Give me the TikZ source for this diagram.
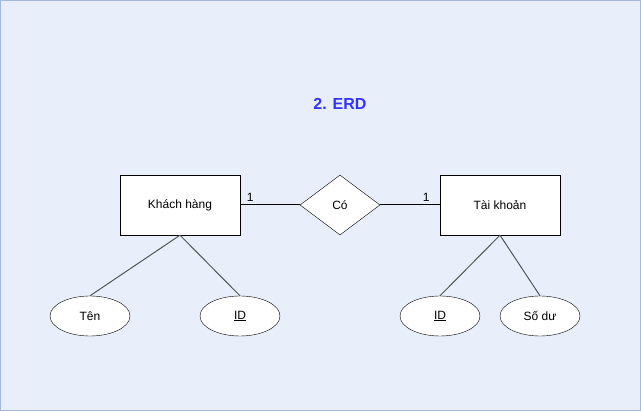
\documentclass[tikz,border=0pt]{standalone}
\usepackage{fontspec}
\setmainfont{Liberation Sans}
\usetikzlibrary{shapes.geometric}
\definecolor{bgblue}{HTML}{E8EFFB}
\definecolor{bdblue}{HTML}{A3B8E2}
\definecolor{titleblue}{HTML}{3333FF}
\definecolor{attrline}{HTML}{555555}

\begin{document}
\begin{tikzpicture}[x=1pt,y=-1pt]
		\tikzstyle{EntityStyle}=[draw=black,fill=white,minimum width=120pt,minimum height=60pt,inner sep=0pt,font=\fontsize{12}{14}\selectfont]
		\tikzstyle{RelStyle}=[diamond,draw=black,fill=white,minimum width=80pt,minimum height=60pt,inner sep=0pt,font=\fontsize{12}{14}\selectfont]
		\tikzstyle{AttrStyle}=[ellipse,draw=black,fill=white,minimum width=80pt,minimum height=40pt,inner sep=0pt,font=\fontsize{12}{14}\selectfont]
		\tikzstyle{AttrEdge}=[draw=attrline,line width=1pt]
		\tikzstyle{RelEdge}=[draw=black,line width=1pt]
		\tikzstyle{CardStyle}=[anchor=south,inner sep=3pt,font=\fontsize{12}{14}\selectfont]
		% page
		\useasboundingbox (0,0) rectangle (641,411);
		\draw[fill=bgblue,draw=bdblue] (0.5,0.5) rectangle (640.5,410.5);
		\node[font=\bfseries\fontsize{16}{19}\selectfont,text=titleblue] (title) at (340,104) {2. ERD};
		% entities and relation
		\node[EntityStyle] (KH) at (180,205) {Khách hàng};
		\node[RelStyle] (Co) at (340,205) {Có};
		\node[EntityStyle] (TK) at (500,205) {Tài khoản};
		% attributes
		\node[AttrStyle] (Ten) at (90,316) {Tên};
		\node[AttrStyle] (IDKH) at (240,316) {\underline{ID}};
		\node[AttrStyle] (IDTK) at (440,316) {\underline{ID}};
		\node[AttrStyle] (SoDu) at (540,316) {Số dư};
		% edges
		\draw[RelEdge] (KH.east) -- node[CardStyle,pos=0.17] {1} (Co.west);
		\draw[RelEdge] (Co.east) -- node[CardStyle,pos=0.77] {1} (TK.west);
		\draw[AttrEdge] (KH.south) -- (Ten.north);
		\draw[AttrEdge] (KH.south) -- (IDKH.north);
		\draw[AttrEdge] (TK.south) -- (IDTK.north);
		\draw[AttrEdge] (TK.south) -- (SoDu.north);
	\end{tikzpicture}
\end{document}
